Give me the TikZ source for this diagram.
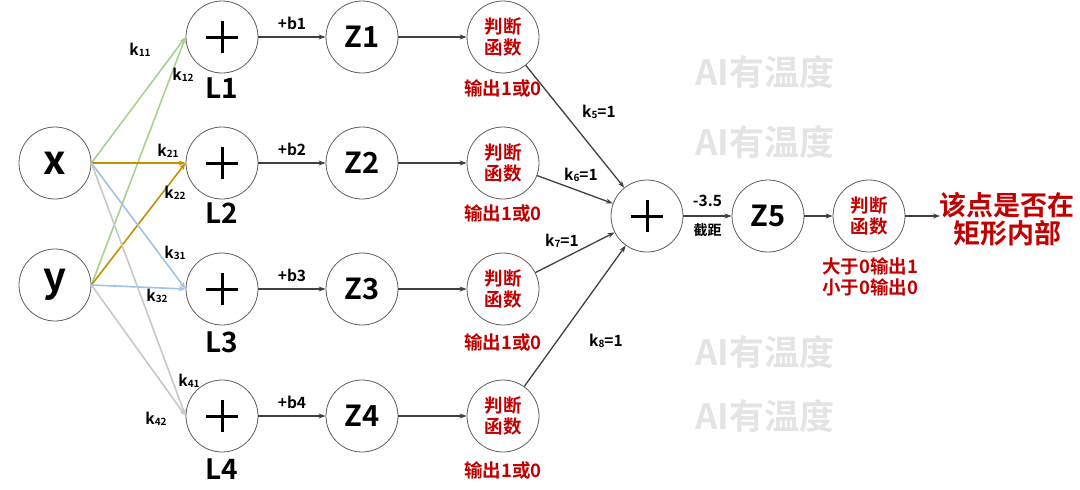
\documentclass[tikz,border=0pt]{standalone}
\usepackage{fontspec}
\setmainfont{Noto Sans CJK SC}[BoldFont={Noto Sans CJK SC Bold}]
\usetikzlibrary{arrows.meta}
\definecolor{cgreen}{HTML}{A9D18E}
\definecolor{cgold}{HTML}{C09200}
\definecolor{cblue}{HTML}{9DC3E6}
\definecolor{cgray}{HTML}{C8C8C8}
\definecolor{cdark}{HTML}{404040}
\definecolor{cred}{HTML}{C00000}
\definecolor{cwm}{HTML}{E4E4E4}
\tikzset{
  circ/.style={circle,draw=cdark!85,line width=0.8pt,minimum size=72pt,inner sep=0pt,font=\bfseries},
  plusnode/.style={circ,path picture={
    \draw[line width=3pt,black] ([xshift=-16pt]path picture bounding box.center) -- ([xshift=16pt]path picture bounding box.center);
    \draw[line width=3pt,black] ([yshift=-16pt]path picture bounding box.center) -- ([yshift=16pt]path picture bounding box.center);}},
  zlab/.style={font=\fontsize{29}{30}\selectfont\bfseries},
  judge/.style={circ,align=center,text=cred,font=\fontsize{18.5}{21}\selectfont\bfseries},
  redtxt/.style={text=cred,font=\fontsize{18.5}{21}\selectfont\bfseries,align=center},
  llab/.style={font=\fontsize{28}{30}\selectfont\bfseries},
  klab/.style={font=\fontsize{15.5}{16}\selectfont\bfseries,inner sep=0pt},
  wm/.style={text=cwm,font=\fontsize{35}{36}\selectfont\bfseries},
  arr/.style={-{Stealth[length=7pt,width=5pt]},draw=cdark,line width=1.3pt},
  carr/.style={-{Stealth[length=7pt,width=5pt]},line width=1.6pt},
}
\newcommand{\ksub}[1]{k{\fontsize{10}{10}\selectfont\raisebox{-0.25ex}{#1}}}
\begin{document}
\begin{tikzpicture}[x=1pt,y=-1pt]
\useasboundingbox (0,0) rectangle (1080,490);
% watermarks
\node[wm] (w1) at (765,72) {AI有温度};
\node[wm] (w2) at (765,142) {AI有温度};
\node[wm] (w3) at (765,352) {AI有温度};
\node[wm] (w4) at (765,416) {AI有温度};
% inputs
\node[circ,font=\fontsize{40}{40}\selectfont\bfseries] (x) at (55,163) {x};
\node[circ,font=\fontsize{40}{40}\selectfont\bfseries] (y) at (55,285) {y};
% sum nodes
\node[plusnode] (L1) at (222,37) {};
\node[plusnode] (L2) at (222,163) {};
\node[plusnode] (L3) at (222,289) {};
\node[plusnode] (L4) at (222,416) {};
\node[llab] (l1) at (222,88) {L1};
\node[llab] (l2) at (222,213) {L2};
\node[llab] (l3) at (222,342) {L3};
\node[llab] (l4) at (222,469) {L4};
% Z nodes
\node[circ,zlab] (Z1) at (362,37) {Z1};
\node[circ,zlab] (Z2) at (362,163) {Z2};
\node[circ,zlab] (Z3) at (362,289) {Z3};
\node[circ,zlab] (Z4) at (362,416) {Z4};
% judge nodes
\node[judge] (J1) at (503,37) {判断\\函数};
\node[judge] (J2) at (503,163) {判断\\函数};
\node[judge] (J3) at (503,289) {判断\\函数};
\node[judge] (J4) at (503,416) {判断\\函数};
\node[redtxt] (o1) at (503,88) {输出1或0};
\node[redtxt] (o2) at (503,213) {输出1或0};
\node[redtxt] (o3) at (503,342) {输出1或0};
\node[redtxt] (o4) at (503,470) {输出1或0};
% final stage
\node[plusnode] (S) at (647,216) {};
\node[circ,zlab] (Z5) at (768,216) {Z5};
\node[judge] (J5) at (869,216) {判断\\函数};
\node[redtxt] (o5) at (870,277) {大于0输出1\\小于0输出0};
\coordinate (end) at (940,216);
\node[text=cred,font=\fontsize{27}{28}\selectfont\bfseries,align=center] (res) at (1007,219) {该点是否在\\矩形内部};
% input edges
\draw[carr,draw=cgreen] (x.east) -- (L1.west);
\draw[carr,draw=cgreen] (y.east) -- (L1.west);
\draw[carr,draw=cgold] (x.east) -- (L2.west);
\draw[carr,draw=cgold] (y.east) -- (L2.west);
\draw[carr,draw=cblue] (x.east) -- (L3.west);
\draw[carr,draw=cblue] (y.east) -- (L3.west);
\draw[carr,draw=cgray] (x.east) -- (L4.west);
\draw[carr,draw=cgray] (y.east) -- (L4.west);
\node[klab] (k11) at (140,50) {\ksub{11}};
\node[klab] (k12) at (183,75) {\ksub{12}};
\node[klab] (k21) at (168,151) {\ksub{21}};
\node[klab] (k22) at (175,193) {\ksub{22}};
\node[klab] (k31) at (175,253) {\ksub{31}};
\node[klab] (k32) at (157,296) {\ksub{32}};
\node[klab] (k41) at (189,381) {\ksub{41}};
\node[klab] (k42) at (156,419) {\ksub{42}};
% L -> Z
\draw[arr] (L1) -- node[klab,above=7pt,font=\fontsize{15.5}{16}\selectfont\bfseries] (b1) {+b1} (Z1);
\draw[arr] (L2) -- node[klab,above=7pt,font=\fontsize{15.5}{16}\selectfont\bfseries] (b2) {+b2} (Z2);
\draw[arr] (L3) -- node[klab,above=7pt,font=\fontsize{15.5}{16}\selectfont\bfseries] (b3) {+b3} (Z3);
\draw[arr] (L4) -- node[klab,above=7pt,font=\fontsize{15.5}{16}\selectfont\bfseries] (b4) {+b4} (Z4);
% Z -> J
\draw[arr] (Z1) -- (J1);
\draw[arr] (Z2) -- (J2);
\draw[arr] (Z3) -- (J3);
\draw[arr] (Z4) -- (J4);
% J -> S
\draw[arr] (J1) -- (S);
\draw[arr] (J2) -- (S);
\draw[arr] (J3) -- (S);
\draw[arr] (J4) -- (S);
\node[klab] (k5) at (599,112) {\ksub{5}=1};
\node[klab] (k6) at (581,175) {\ksub{6}=1};
\node[klab] (k7) at (562,241) {\ksub{7}=1};
\node[klab] (k8) at (606,341) {\ksub{8}=1};
% final arrows
\draw[arr] (S) -- node[klab,above=9pt,font=\fontsize{15.5}{16}\selectfont\bfseries] (c35) {-3.5}
  node[klab,below=7pt,font=\fontsize{14}{15}\selectfont\bfseries] (jj) {截距} (Z5);
\draw[arr] (Z5) -- (J5);
\draw[arr] (J5) -- (end);
\end{tikzpicture}
\end{document}
